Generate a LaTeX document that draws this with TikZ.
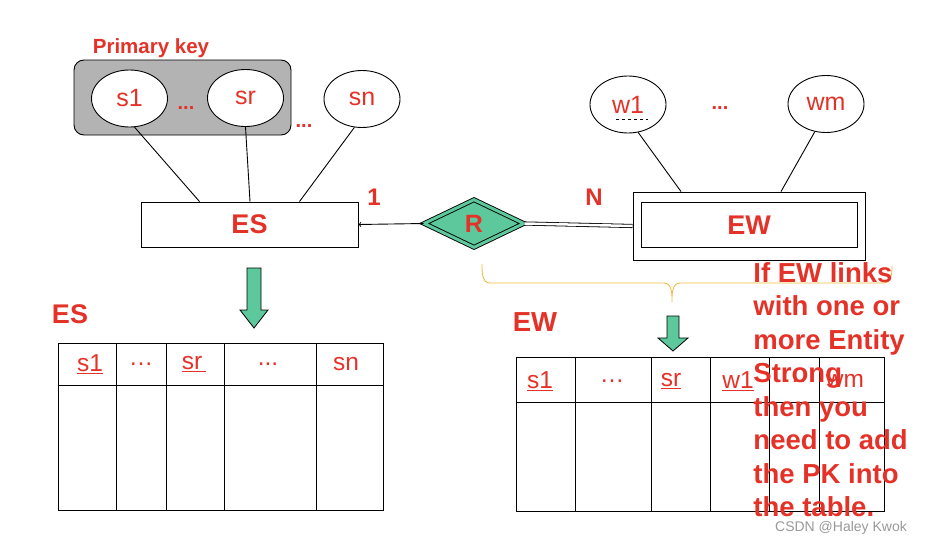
\documentclass[tikz,border=0pt]{standalone}
\usepackage{tikz}
\usepackage{xcolor}
\usepackage{fontspec}
\setmainfont{Liberation Sans}
\usetikzlibrary{arrows,shapes.geometric,positioning}
\definecolor{erred}{HTML}{E53228}
\definecolor{ergreen}{HTML}{5CC89B}
\definecolor{ergrey}{HTML}{B3B3B3}
\definecolor{bracecol}{HTML}{EDB83A}

\begin{document}
\begin{tikzpicture}[x=1pt,y=-1pt,line width=0.9pt,
  attr/.style={ellipse,draw=black,fill=white,minimum width=76pt,minimum height=57pt,inner sep=0pt,text=erred,font=\fontsize{25}{25}\selectfont},
  entity/.style={rectangle,draw=black,fill=white,inner sep=0pt,text=erred,font=\bfseries\fontsize{27}{27}\selectfont},
  redlbl/.style={text=erred,inner sep=0pt,font=\bfseries\fontsize{24}{24}\selectfont},
  dots/.style={text=erred,inner sep=0pt,font=\bfseries\fontsize{20}{20}\selectfont},
  colhead/.style={text=erred,inner sep=0pt,font=\fontsize{24.5}{24.5}\selectfont},
  greenarrow/.style={draw=black,fill=ergreen,line width=0.8pt}]
\useasboundingbox (0,0) rectangle (928,546);

% strong entity with its attributes
\node (pkbox) at (182.5,97.5) [rectangle,rounded corners=10pt,draw=black,fill=ergrey,minimum width=217pt,minimum height=75pt] {};
\node (pk) at (151,48) [redlbl,font=\bfseries\fontsize{20.5}{20.5}\selectfont] {Primary key};
\node (s1) at (129.5,98.5) [attr] {s1};
\node (sr) at (245.5,98) [attr] {sr};
\node (sn) at (362,99) [attr] {sn};
\node (d1) at (186,108) [dots] {...};
\node (d2) at (304,126) [dots] {...};
\node (es) at (249.5,224.5) [entity,minimum width=217pt,minimum height=45pt] {ES};
\draw[-] (s1.-80) -- ([xshift=-50pt]es.north);
\draw[-] (sr.south) -- ([xshift=0.5pt]es.north);
\draw[-] (sn.-105) -- ([xshift=50pt]es.north);

% relationship
\node (r) at (474,223.5) [diamond,aspect=2,draw=black,fill=ergreen,double=ergreen,double distance=3pt,minimum width=100pt,minimum height=48pt,inner sep=0pt,text=erred,font=\bfseries\fontsize{25}{25}\selectfont] {R};
\node (one) at (374,197) [redlbl] {1};
\node (n) at (594,197) [redlbl] {N};

% weak entity
\node (ewo) at (749,226) [rectangle,draw=black,fill=white,minimum width=232pt,minimum height=68pt] {};
\node (ew) at (749,225) [entity,minimum width=216pt,minimum height=45pt] {EW};
\node (w1) at (628,104.5) [attr] {w1};
\node (wm) at (826,104) [attr] {wm};
\node (d3) at (720,108) [dots] {...};
\draw[dashed,line width=0.7pt] ([xshift=-12pt,yshift=-15pt]w1.center) -- ([xshift=20pt,yshift=-15pt]w1.center);
\draw[-] (w1.-70) -- ([xshift=-68pt]ewo.north);
\draw[-] (wm.-112) -- ([xshift=32pt]ewo.north);

\draw[->,line width=0.9pt] (r.west) -- (es.east);
\draw[double,double distance=2.5pt,line width=0.8pt] (r.east) -- (ewo.west);

% brace over the relationship and weak entity
\coordinate (bl) at (482,264);
\coordinate (bm) at (672,302);
\coordinate (br) at (892,266);
\draw[bracecol,line width=0.8pt] (bl) to[out=-90,in=180] (490,283) -- (664,283) to[out=0,in=90] (bm)
  to[out=90,in=180] (680,283) -- (884,283) to[out=0,in=-90] (br);

% green arrows
\draw[greenarrow] (247,268) -- (261,268) -- (261,310) -- (268,310) -- (254,328) -- (240,310) -- (247,310) -- cycle;
\draw[greenarrow] (667,316) -- (679,316) -- (679,338) -- (688,338) -- (673,351) -- (658,338) -- (667,338) -- cycle;

% ES table
\node (esl) at (70,314) [redlbl,font=\bfseries\fontsize{27}{27}\selectfont] {ES};
\draw (58,343) rectangle (383,510);
\draw (58,385) -- (383,385);
\foreach \x in {116,166,224,316} \draw (\x,343) -- (\x,510);
\node (es1) at (90,364) [colhead] {\underline{s1}};
\node (es2) at (141,364) [colhead] {…};
\node (es3) at (194,364) [colhead] {\underline{sr\,}};
\node (es4) at (268,364) [colhead] {...};
\node (es5) at (346,364) [colhead] {sn};

% EW table
\node (ewl) at (535,322) [redlbl,font=\bfseries\fontsize{27.5}{27.5}\selectfont] {EW};
\draw (516,357) rectangle (884,511);
\draw (516,402) -- (884,402);
\foreach \x in {575,651,710,769,819} \draw (\x,357) -- (\x,511);
\node (ew1) at (540,381) [colhead] {\underline{s1}};
\node (ew2) at (612,381) [colhead] {…};
\node (ew3) at (671,381) [colhead] {\underline{sr}};
\node (ew4) at (738,381) [colhead] {\underline{w1}};
\node (ew5) at (795,381) [colhead] {…};
\node (ew6) at (845,381) [colhead] {wm};

% note
\node (note) at (753,262) [anchor=north west,inner sep=0pt,align=left,text=erred,font=\bfseries\fontsize{27.5}{33.5}\selectfont] {If EW links\\with one or\\more Entity\\Strong\\then you\\need to add\\the PK into\\the table.};
\node (wmk) at (841,528) [text=black!40,inner sep=0pt,font=\fontsize{14}{14}\selectfont] {CSDN @Haley Kwok};
\end{tikzpicture}
\end{document}
